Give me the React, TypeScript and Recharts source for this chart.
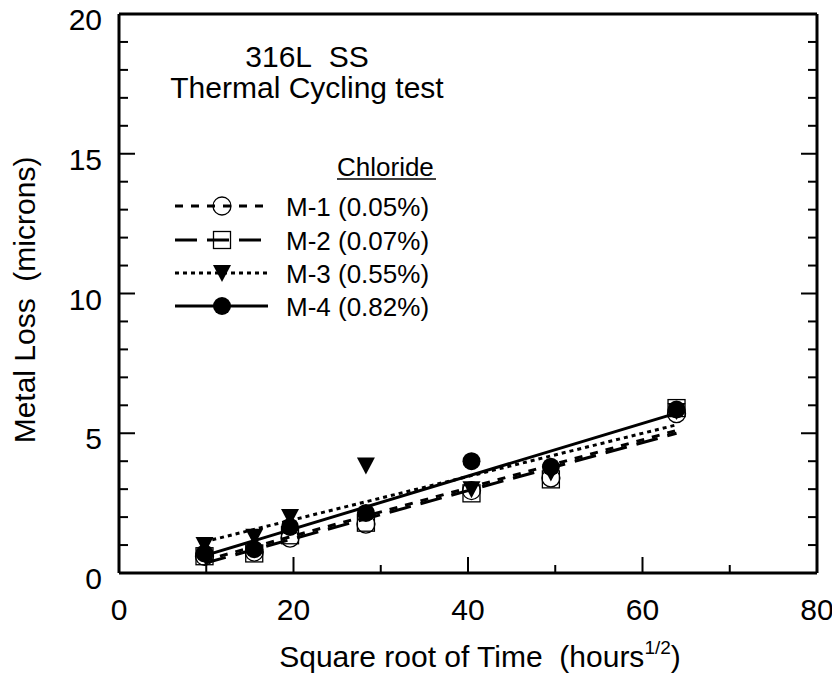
import React from "react";
import { ComposedChart, XAxis, YAxis, Scatter, Line } from "recharts";

// ---- data ----
const sqrtTime = [9.8, 15.5, 19.6, 28.3, 40.4, 49.5, 63.9];
const m1Loss = [0.6, 0.75, 1.25, 1.75, 2.95, 3.4, 5.7];
const m2Loss = [0.6, 0.7, 1.35, 1.8, 2.85, 3.35, 5.9];
const m3Loss = [1.0, 1.3, 2.0, 3.85, 3.0, 3.6, 5.8];
const m4Loss = [0.7, 0.85, 1.65, 2.15, 4.0, 3.8, 5.85];

const fitX = [9.8, 63.9];
const m1Fit = [0.45, 5.1];
const m2Fit = [0.35, 5.0];
const m3Fit = [1.12, 5.3];
const m4Fit = [0.62, 5.72];

const xTicks = [0, 10, 20, 30, 40, 50, 60, 70, 80];
const yTicks = Array.from({ length: 21 }, (_, i) => i);

const seriesLabels = ["M-1 (0.05%)", "M-2 (0.07%)", "M-3 (0.55%)", "M-4 (0.82%)"];

const toPts = (xs: number[], ys: number[]) => xs.map((x, i) => ({ x, y: ys[i] }));

const FONT = "'Liberation Sans', Arial, Helvetica, sans-serif";

// ---- marker shapes ----
const OpenCircle = (p: any) => (
  <circle cx={p.cx} cy={p.cy} r={9} fill="none" stroke="#000" strokeWidth={1.3} />
);
const OpenSquare = (p: any) => (
  <rect x={p.cx - 8.5} y={p.cy - 8.5} width={17} height={17} fill="none" stroke="#000" strokeWidth={1.3} />
);
const DownTri = (p: any) => (
  <path d={`M${p.cx - 9},${p.cy - 8} L${p.cx + 9},${p.cy - 8} L${p.cx},${p.cy + 9} Z`} fill="#000" />
);
const FilledCircle = (p: any) => <circle cx={p.cx} cy={p.cy} r={9} fill="#000" />;

const markers = [OpenCircle, OpenSquare, DownTri, FilledCircle];
const dashes = ["8 8", "22 10", "4 4", undefined];

// ---- ticks ----
const BottomTick = (p: any) => {
  const v = p.payload.value;
  const major = v % 20 === 0;
  return (
    <g>
      <line x1={p.x} x2={p.x} y1={p.y} y2={p.y - (major ? 16 : 8)} stroke="#000" strokeWidth={2} />
      {major && (
        <text x={p.x} y={p.y + 47} textAnchor="middle" fontSize={30} fontFamily={FONT} fill="#000">
          {v}
        </text>
      )}
    </g>
  );
};
const TopTick = (p: any) => {
  const v = p.payload.value;
  const major = v % 20 === 0;
  return <line x1={p.x} x2={p.x} y1={p.y} y2={p.y + (major ? 16 : 8)} stroke="#000" strokeWidth={2} />;
};
const LeftTick = (p: any) => {
  const v = p.payload.value;
  const major = v % 5 === 0;
  return (
    <g>
      <line x1={p.x} x2={p.x + (major ? 16 : 9)} y1={p.y} y2={p.y} stroke="#000" strokeWidth={2} />
      {major && (
        <text x={p.x - 17} y={p.y + 16} textAnchor="end" fontSize={30} fontFamily={FONT} fill="#000">
          {v}
        </text>
      )}
    </g>
  );
};
const RightTick = (p: any) => {
  const v = p.payload.value;
  const major = v % 5 === 0;
  return <line x1={p.x} x2={p.x - (major ? 16 : 9)} y1={p.y} y2={p.y} stroke="#000" strokeWidth={2} />;
};

const axisLine = { stroke: "#000", strokeWidth: 3 };

export default function App() {
  const scatterData = [m1Loss, m2Loss, m3Loss, m4Loss].map((ys) => toPts(sqrtTime, ys));
  const fitData = [m1Fit, m2Fit, m3Fit, m4Fit].map((ys) => toPts(fitX, ys));
  const legendRows = [206, 240, 273, 306];

  return (
    <div style={{ position: "relative", width: 832, height: 688, marginTop: -8 }}>
      <ComposedChart width={832} height={688} margin={{ top: 0, right: 0, bottom: 0, left: 0 }}>
        <XAxis
          xAxisId="b"
          orientation="bottom"
          type="number"
          dataKey="x"
          domain={[0, 80]}
          ticks={xTicks}
          interval={0}
          height={115}
          tickSize={0}
          tickMargin={0}
          tickLine={false}
          axisLine={axisLine}
          tick={BottomTick}
          allowDataOverflow
        />
        <XAxis
          xAxisId="t"
          orientation="top"
          type="number"
          domain={[0, 80]}
          ticks={xTicks}
          interval={0}
          height={14}
          tickSize={0}
          tickMargin={0}
          tickLine={false}
          axisLine={axisLine}
          tick={TopTick}
          allowDataOverflow
        />
        <YAxis
          yAxisId="l"
          orientation="left"
          type="number"
          dataKey="y"
          domain={[0, 20]}
          ticks={yTicks}
          interval={0}
          width={111}
          tickSize={0}
          tickMargin={0}
          tickLine={false}
          axisLine={axisLine}
          tick={LeftTick}
          allowDataOverflow
        />
        <YAxis
          yAxisId="r"
          orientation="right"
          type="number"
          domain={[0, 20]}
          ticks={yTicks}
          interval={0}
          width={23}
          tickSize={0}
          tickMargin={0}
          tickLine={false}
          axisLine={axisLine}
          tick={RightTick}
          allowDataOverflow
        />
        {fitData.map((d, i) => (
          <Line
            key={"fit" + i}
            xAxisId="b"
            yAxisId="l"
            data={d}
            dataKey="y"
            type="linear"
            stroke="#000"
            strokeWidth={3}
            strokeDasharray={dashes[i]}
            dot={false}
            activeDot={false}
            isAnimationActive={false}
          />
        ))}
        {scatterData.map((d, i) => (
          <Scatter
            key={"sc" + i}
            xAxisId="b"
            yAxisId="l"
            data={d}
            dataKey="y"
            shape={markers[i]}
            isAnimationActive={false}
          />
        ))}
      </ComposedChart>
      <svg
        width={832}
        height={688}
        style={{ position: "absolute", left: 0, top: 0, pointerEvents: "none" }}
        fontFamily={FONT}
      >
        <text x={299} y={67} textAnchor="middle" fontSize={30} fill="#000">
          {"316L\u00A0\u00A0SS"}
        </text>
        <text x={299} y={98} textAnchor="middle" fontSize={30} fill="#000">
          Thermal Cycling test
        </text>
        <text x={329} y={176} fontSize={26} fill="#000">
          Chloride
        </text>
        <line x1={329} x2={428} y1={179} y2={179} stroke="#000" strokeWidth={1.5} />
        {legendRows.map((cy, i) => {
          const M = markers[i];
          return (
            <g key={"lg" + i}>
              <line x1={167} x2={260} y1={cy} y2={cy} stroke="#000" strokeWidth={3} strokeDasharray={dashes[i]} />
              <M cx={214} cy={cy} />
              <text x={278} y={cy + 9.5} fontSize={26} fill="#000">
                {seriesLabels[i]}
              </text>
            </g>
          );
        })}
        <text
          x={27}
          y={300}
          transform="rotate(-90 27 300)"
          textAnchor="middle"
          fontSize={30}
          fill="#000"
        >
          {"Metal Loss\u00A0\u00A0(microns)"}
        </text>
        <text x={472} y={667} textAnchor="middle" fontSize={30} fill="#000">
          {"Square root of Time\u00A0\u00A0(hours"}
          <tspan fontSize={19} dy={-13}>1/2</tspan>
          <tspan dy={13}>)</tspan>
        </text>
      </svg>
    </div>
  );
}
